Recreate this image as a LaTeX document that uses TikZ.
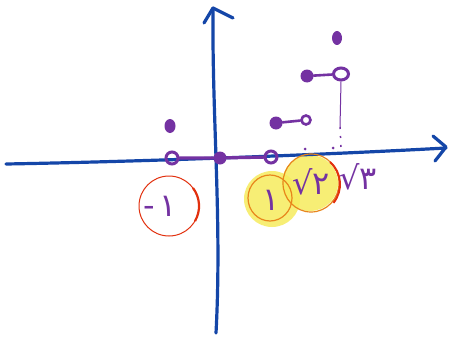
\documentclass[tikz,border=0pt]{standalone}
\usepackage{fontspec}
\newfontfamily\pfont{DejaVu Sans}
\usetikzlibrary{shapes.geometric}
\definecolor{axblue}{HTML}{1446A8}
\definecolor{pur}{HTML}{7432A2}
\definecolor{hred}{HTML}{E2300E}
\definecolor{horange}{HTML}{E8861C}
\definecolor{hyellow}{HTML}{F6EC5E}
\tikzset{
  axis/.style={draw=axblue, line width=3.2pt, line cap=round, line join=round},
  seg/.style={draw=pur, line width=3.2pt, line cap=round},
  fdot/.style={circle, fill=pur, inner sep=0pt, minimum size=13pt},
  odot/.style={circle, draw=pur, line width=3pt, inner sep=0pt, minimum size=12pt},
  lbl/.style={text=pur, font=\pfont\fontsize{32}{32}\selectfont, inner sep=0pt},
  hl/.style={fill=hyellow, fill opacity=0.85},
}
\begin{document}
\begin{tikzpicture}[x=1pt,y=-1pt]
\useasboundingbox[fill=white] (0,0) rectangle (449,337);
% highlights
\fill[hl] (272,199) circle (28pt);
\fill[hl] (310,183) circle (28pt);
% axes
\draw[axis] (6,164) .. controls (120,162) and (300,156) .. (446,148);
\draw[axis] (433,136) -- (446,147) -- (435,161);
\draw[axis] (216,333) .. controls (222,220) and (212,120) .. (213,8);
\draw[axis] (204,23) -- (213,8) -- (233,18);
% label circles
\draw[hred, line width=1pt] (169,206) ellipse [x radius=30pt, y radius=30pt];
\draw[hred, line width=2.2pt] (193,188) arc [start angle=37, end angle=-30, x radius=30pt, y radius=30pt];
\draw[horange, line width=1.2pt] (270,198) ellipse [x radius=22pt, y radius=23pt];
\draw[horange, line width=1.2pt] (311,183) ellipse [x radius=28pt, y radius=29pt];
\draw[hred, line width=2pt] (330,162) arc [start angle=50, end angle=-40, x radius=28pt, y radius=29pt];
% points
\node[fdot] (o) at (220,158) {};
\node[odot] (m1) at (172,158) {};
\node[odot] (p1) at (271,157) {};
\draw[seg] (m1) -- (o) -- (p1);
\node[fdot, ellipse, minimum width=11pt, minimum height=14pt] (a) at (170,126) {};
\node[fdot] (b) at (276,123) {};
\node[odot, minimum size=9pt, line width=2.6pt] (c) at (306,120) {};
\draw[seg, line width=2.6pt] (b) -- (c);
\node[fdot] (d) at (307,76) {};
\node[odot, ellipse, minimum width=15pt, minimum height=12pt] (e) at (341,74) {};
\draw[seg, line width=2.6pt] (d) -- (e);
\node[fdot, ellipse, minimum width=10pt, minimum height=14pt] (f) at (337,38) {};
\coordinate (g) at (340,127);
\coordinate (h) at (341,147);
\draw[pur, line width=1pt] (e.south) -- (g);
\draw[pur, line width=1.5pt, dash pattern=on 2pt off 7pt] (g) -- (h);
\fill[pur] (305,149) circle (1.5pt);
\fill[pur] (333,148) circle (1.5pt);
% labels
\node[lbl] (tm1) at (160,206) {-\kern5pt۱};
\node[lbl] (t1) at (271,200) {۱};
\node[lbl] (t2) at (311,182) {√۲};
\node[lbl] (t3) at (358,177) {√۳};
\end{tikzpicture}
\end{document}
